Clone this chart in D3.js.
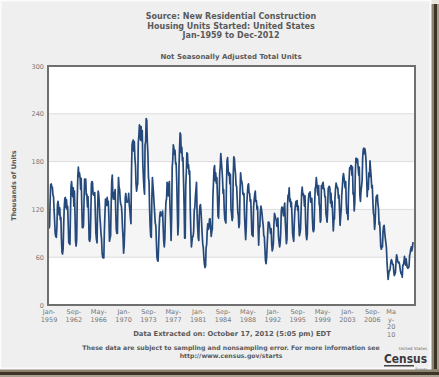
<!DOCTYPE html>
<html>
<head>
<meta charset="utf-8">
<script src="https://cdn.jsdelivr.net/npm/d3@7"></script>
<style>
  body { margin: 0; background: #fff; }
  svg { display: block; }
  text { font-family: "DejaVu Sans", Verdana, sans-serif; }
</style>
</head>
<body>
<svg id="chart" width="439" height="377"></svg>
<script>
// monthly housing starts, not seasonally adjusted, thousands of units (Jan-1959 .. Sep-2012)
let startMonth = '1959-01';
let starts = [
  96,99,128,151,152,148,148,138,136,120,105,90,      // 1959
  86,85,98,126,130,124,113,122,107,110,83,66,        // 1960
  64,71,100,122,134,135,122,132,120,124,102,78,      // 1961
  78,76,114,149,155,145,136,147,124,143,115,80,      // 1962
  74,82,131,161,173,161,166,160,145,159,126,97,      // 1963
  97,100,130,158,150,158,138,139,123,136,116,82,     // 1964
  80,85,112,152,155,154,139,138,138,141,114,90,      // 1965
  82,78,120,143,139,129,111,102,90,83,65,60,         // 1966
  59,59,92,114,133,131,125,135,125,130,110,80,       // 1967
  84,87,125,155,163,138,133,141,133,145,120,95,      // 1968
  90,90,131,160,148,145,132,126,125,116,97,85,       // 1969
  65,75,95,135,140,130,129,130,131,140,126,120,      // 1970
  110,102,167,201,205,207,193,205,184,176,152,143,   // 1971
  149,152,204,212,226,224,207,224,206,219,178,160,   // 1972
  147,139,201,205,234,232,205,190,160,155,120,98,    // 1973
  86,85,132,160,150,140,127,115,103,100,80,60,       // 1974
  56,55,74,98,112,117,112,115,112,118,98,80,         // 1975
  73,84,114,130,133,154,138,137,152,155,124,107,     // 1976
  81,113,173,182,201,197,189,194,177,178,155,121,    // 1977
  88,101,172,196,216,214,191,198,181,185,157,126,    // 1978
  84,84,150,166,191,190,172,176,164,168,118,92,      // 1979
  73,80,86,86,93,119,122,136,145,154,115,98,         // 1980
  84,81,113,124,126,117,104,89,77,72,60,51,          // 1981
  47,49,72,76,94,102,95,98,108,108,98,86,            // 1982
  92,96,135,153,171,175,156,166,153,160,137,112,     // 1983
  109,131,165,174,190,180,171,159,140,145,120,108,   // 1984
  105,103,150,181,185,170,163,166,152,164,120,115,   // 1985
  106,110,163,186,184,172,165,150,149,134,117,112,   // 1986
  97,102,141,166,158,155,151,140,138,140,111,95,     // 1987
  82,98,127,140,150,152,141,140,130,132,110,88,      // 1988
  90,86,123,132,139,143,130,131,120,124,98,75,       // 1989
  99,98,117,124,120,114,106,100,87,86,71,56,         // 1990
  52,59,74,90,104,104,102,96,90,96,77,68,            // 1991
  71,78,101,115,112,109,107,99,106,109,86,79,        // 1992
  73,78,91,118,123,122,117,112,122,128,105,92,       // 1993
  77,83,125,138,137,147,130,133,123,129,110,90,      // 1994
  84,80,102,118,125,130,124,131,119,124,102,87,      // 1995
  90,95,117,140,148,138,140,135,124,137,104,88,      // 1996
  82,89,117,133,140,139,142,129,131,134,109,94,      // 1997
  92,96,127,146,149,160,152,142,138,150,127,124,     // 1998
  104,106,150,146,152,154,146,146,136,136,115,110,   // 1999
  104,119,146,148,149,146,128,140,123,130,112,93,    // 2000
  107,108,134,146,153,150,147,147,134,138,120,100,   // 2001
  111,120,138,148,160,165,160,153,147,155,126,115,   // 2002
  117,107,141,158,172,171,175,175,163,173,139,141,   // 2003
  118,129,165,184,184,179,183,172,163,173,138,130,   // 2004
  143,149,156,185,195,197,190,196,190,180,160,136,   // 2005
  153,145,166,161,181,170,161,147,150,131,115,112,   // 2006
  95,103,124,136,137,138,127,121,101,104,90,73,      // 2007
  70,74,73,92,99,100,91,84,78,72,54,42,              // 2008
  32,39,43,43,48,55,57,54,51,51,42,37,               // 2009
  39,41,55,63,60,55,53,54,52,47,42,39,               // 2010
  40,35,50,50,54,61,54,50,58,52,47,46,               // 2011
  47,48,62,65,70,73,68,72,79                         // 2012
];

let xTickLabels = ['Jan-1959','Sep-1962','May-1966','Jan-1970','Sep-1973','May-1977','Jan-1981',
                   'Sep-1984','May-1988','Jan-1992','Sep-1995','May-1999','Jan-2003','Sep-2006','May-2010'];
let yTicks = [0, 60, 120, 180, 240, 300];

let titleLines = ['Source: New Residential Construction', 'Housing Units Started: United States', 'Jan-1959 to Dec-2012'];

let svg = d3.select('#chart');

let plot = {left: 48, right: 415, top: 66, bottom: 305};

let parseMonth = d3.timeParse('%Y-%m');
let parseTick = d3.timeParse('%b-%Y');
let first = parseMonth(startMonth);
let data = starts.map((v, i) => ({date: d3.timeMonth.offset(first, i), value: v}));

let x = d3.scaleTime()
  .domain([data[0].date, data[data.length - 1].date])
  .range([plot.left + 1, plot.right - 2]);
let y = d3.scaleLinear().domain([0, 300]).range([plot.bottom, plot.top]);

// frame + shadow of the screenshot
svg.append('rect').attr('x', 0).attr('y', 0).attr('width', 439).attr('height', 377).attr('fill', '#e9e6df');
svg.append('rect').attr('x', 431).attr('y', 4).attr('width', 3).attr('height', 373).attr('fill', '#8c8270');
svg.append('rect').attr('x', 434).attr('y', 4).attr('width', 3).attr('height', 373).attr('fill', '#3e3526');
svg.append('rect').attr('x', 437).attr('y', 4).attr('width', 2).attr('height', 373).attr('fill', '#a8a090');
svg.append('rect').attr('x', 0).attr('y', 369).attr('width', 439).attr('height', 3).attr('fill', '#8c8270');
svg.append('rect').attr('x', 0).attr('y', 372).attr('width', 439).attr('height', 3).attr('fill', '#3e3526');
svg.append('rect').attr('x', 0).attr('y', 375).attr('width', 439).attr('height', 2).attr('fill', '#a8a090');
svg.append('rect').attr('x', 0.5).attr('y', 0.5).attr('width', 430).attr('height', 368)
  .attr('fill', '#efefef').attr('stroke', '#fbfbfb').attr('stroke-width', 2);

// plot background with alternating bands
svg.append('rect').attr('x', plot.left).attr('y', plot.top)
  .attr('width', plot.right - plot.left).attr('height', plot.bottom - plot.top).attr('fill', '#ffffff');
[[180, 240], [60, 120]].forEach(b => {
  svg.append('rect').attr('x', plot.left).attr('y', y(b[1]))
    .attr('width', plot.right - plot.left).attr('height', y(b[0]) - y(b[1])).attr('fill', '#f5f5f5');
});

svg.append('g').selectAll('line')
  .data(yTicks.filter(t => t > 0 && t < 300))
  .enter().append('line')
  .attr('x1', plot.left).attr('x2', plot.right)
  .attr('y1', d => y(d)).attr('y2', d => y(d))
  .attr('stroke', '#dcdcdc').attr('stroke-width', 1);

// the series
svg.append('path')
  .datum(data)
  .attr('fill', 'none')
  .attr('stroke', '#24497a')
  .attr('stroke-width', 1.7)
  .attr('stroke-linejoin', 'round')
  .attr('d', d3.line().x(d => x(d.date)).y(d => y(d.value)));

// plot border
svg.append('rect').attr('x', plot.left).attr('y', plot.top)
  .attr('width', plot.right - plot.left).attr('height', plot.bottom - plot.top)
  .attr('fill', 'none').attr('stroke', '#6f6f6f').attr('stroke-width', 2);

// y axis labels
let yAxis = svg.append('g').attr('transform', `translate(${plot.left - 4},0)`)
  .call(d3.axisLeft(y).tickValues(yTicks).tickSize(0).tickPadding(0));
yAxis.select('.domain').remove();
yAxis.selectAll('text').attr('font-size', 6.5).attr('fill', '#777')
  .style('font-family', '"DejaVu Sans", Verdana, sans-serif');

svg.append('text')
  .attr('transform', `translate(16,${(plot.top + plot.bottom) / 2}) rotate(-90)`)
  .attr('text-anchor', 'middle').attr('font-size', 6.5).attr('font-weight', 'bold').attr('fill', '#555')
  .text('Thousands of Units');

// x axis labels, two lines each (the last one wraps into four)
let xg = svg.append('g');
xTickLabels.forEach((lab, i) => {
  let px = x(parseTick(lab));
  let parts = lab.split('-');
  let last = i === xTickLabels.length - 1;
  let lines = last ? ['Ma', 'y-', '20', '10'] : [parts[0] + '-', parts[1]];
  let t = xg.append('text').attr('text-anchor', 'middle').attr('font-size', 6.5).attr('fill', '#777');
  lines.forEach((l, k) => {
    t.append('tspan').attr('x', last ? px - 6 : px).attr('y', 314 + k * 7.6).text(l);
  });
});

// titles
titleLines.forEach((l, i) => {
  svg.append('text').attr('x', 231).attr('y', 19 + i * 9.6)
    .attr('text-anchor', 'middle').attr('font-size', 8).attr('font-weight', 'bold').attr('fill', '#5a5a5a')
    .text(l);
});
svg.append('text').attr('x', 231).attr('y', 59)
  .attr('text-anchor', 'middle').attr('font-size', 7).attr('font-weight', 'bold').attr('fill', '#5a5a5a')
  .text('Not Seasonally Adjusted Total Units');

// footer
svg.append('text').attr('x', 232).attr('y', 336)
  .attr('text-anchor', 'middle').attr('font-size', 6.8).attr('font-weight', 'bold').attr('fill', '#5a5a5a')
  .text('Data Extracted on: October 17, 2012 (5:05 pm) EDT');
svg.append('text').attr('x', 231).attr('y', 350)
  .attr('text-anchor', 'middle').attr('font-size', 6.2).attr('font-weight', 'bold').attr('fill', '#5a5a5a')
  .text('These data are subject to sampling and nonsampling error. For more information see');
svg.append('text').attr('x', 231).attr('y', 358)
  .attr('text-anchor', 'middle').attr('font-size', 6.2).attr('font-weight', 'bold').attr('fill', '#5a5a5a')
  .text('http://www.census.gov/starts');

// census logo
svg.append('text').attr('x', 427).attr('y', 349.5).attr('text-anchor', 'end')
  .attr('font-size', 4.2).attr('fill', '#666').text('United States');
svg.append('text').attr('x', 384).attr('y', 363)
  .attr('font-size', 13).attr('font-weight', 'bold').attr('fill', '#3a3a3a')
  .attr('textLength', 43).attr('lengthAdjust', 'spacingAndGlyphs').text('Census');
svg.append('rect').attr('x', 384).attr('y', 365).attr('width', 30).attr('height', 1.5).attr('fill', '#444');
svg.append('text').attr('x', 427).attr('y', 369.5).attr('text-anchor', 'end')
  .attr('font-size', 3.3).attr('fill', '#777').text('Bureau');
</script>
</body>
</html>
